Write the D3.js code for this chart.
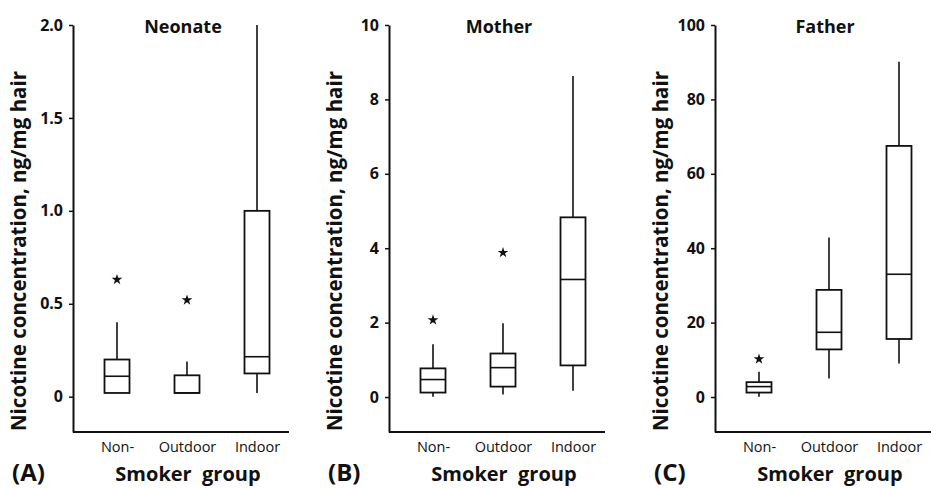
<!DOCTYPE html>
<html>
<head>
<meta charset="utf-8">
<script src="https://cdn.jsdelivr.net/npm/d3@7"></script>
<style>
  body { margin: 0; background: #fff; }
  svg text { font-family: "Open Sans", "Noto Sans", sans-serif; fill: #111; }
</style>
</head>
<body>
<svg width="931" height="488"></svg>
<script>
// smoker groups on the x axis
var groups = ["Non-", "Outdoor", "Indoor"];
var panelTitles = ["Neonate", "Mother", "Father"];
var panelLetters = ["(A)", "(B)", "(C)"];

// [min, q1, median, q3, max] per group
var neonateBoxes = [[0.02, 0.02, 0.11, 0.20, 0.40], [0.02, 0.02, 0.02, 0.115, 0.19], [0.02, 0.125, 0.215, 1.0, 2.0]];
var neonateOutliers = [0.63, 0.52, null];
var motherBoxes = [[0.01, 0.12, 0.47, 0.77, 1.42], [0.07, 0.28, 0.79, 1.17, 1.98], [0.17, 0.85, 3.16, 4.83, 8.63]];
var motherOutliers = [2.07, 3.88, null];
var fatherBoxes = [[0.1, 1.2, 2.8, 4.0, 6.8], [5.0, 12.8, 17.4, 28.8, 42.9], [9.0, 15.6, 33.0, 67.5, 90.1]];
var fatherOutliers = [10.2, null, null];

// y axis ticks
var neonateTicks = [0, 0.5, 1, 1.5, 2];
var neonateTickLabels = ["0", "0.5", "1.0", "1.5", "2.0"];
var motherTicks = [0, 2, 4, 6, 8, 10];
var motherTickLabels = ["0", "2", "4", "6", "8", "10"];
var fatherTicks = [0, 20, 40, 60, 80, 100];
var fatherTickLabels = ["0", "20", "40", "60", "80", "100"];

var panels = [
  {boxes: neonateBoxes, outliers: neonateOutliers, ticks: neonateTicks, labels: neonateTickLabels, domain: [-0.19, 2.0], left: 73},
  {boxes: motherBoxes, outliers: motherOutliers, ticks: motherTicks, labels: motherTickLabels, domain: [-0.94, 10], left: 389},
  {boxes: fatherBoxes, outliers: fatherOutliers, ticks: fatherTicks, labels: fatherTickLabels, domain: [-9.4, 100], left: 715}
];

var svg = d3.select("svg");
var plotTop = 25, plotBottom = 432, boxW = 25;

panels.forEach(function(p, i) {
  var g = svg.append("g");
  var y = d3.scaleLinear().domain(p.domain).range([plotBottom, plotTop]);
  var x = d3.scalePoint().domain(groups).range([p.left + 44, p.left + 184]);

  // y axis
  var yAxis = d3.axisLeft(y)
    .tickValues(p.ticks)
    .tickFormat(function(d, k) { return p.labels[k]; })
    .tickSize(4)
    .tickSizeOuter(0)
    .tickPadding(6);
  var ya = g.append("g")
    .attr("transform", "translate(" + p.left + ",0)")
    .call(yAxis);
  ya.select(".domain").attr("stroke", "#111").attr("stroke-width", 2);
  ya.selectAll(".tick line").attr("stroke", "#111").attr("stroke-width", 1.5);
  ya.selectAll(".tick text")
    .style("font-size", "16px")
    .style("font-weight", "bold")
    .attr("fill", "#111");

  // x axis
  var xAxis = d3.axisBottom(x).tickSize(0).tickPadding(10);
  var xa = g.append("g")
    .attr("transform", "translate(0," + plotBottom + ")")
    .call(xAxis);
  xa.select(".domain").remove();
  xa.selectAll(".tick text")
    .style("font-size", "14.5px")
    .style("font-weight", "500")
    .attr("fill", "#111");
  g.append("line")
    .attr("x1", p.left).attr("x2", Math.min(p.left + 216, 931))
    .attr("y1", plotBottom).attr("y2", plotBottom)
    .attr("stroke", "#111").attr("stroke-width", 2);

  // boxes
  var b = g.selectAll(".box").data(p.boxes).enter().append("g").attr("class", "box");
  b.append("line")
    .attr("x1", function(d, k) { return x(groups[k]); })
    .attr("x2", function(d, k) { return x(groups[k]); })
    .attr("y1", function(d) { return y(d[3]); })
    .attr("y2", function(d) { return y(d[4]); })
    .attr("stroke", "#111").attr("stroke-width", 1.6);
  b.append("line")
    .attr("x1", function(d, k) { return x(groups[k]); })
    .attr("x2", function(d, k) { return x(groups[k]); })
    .attr("y1", function(d) { return y(d[1]); })
    .attr("y2", function(d) { return y(d[0]); })
    .attr("stroke", "#111").attr("stroke-width", 1.6);
  b.append("rect")
    .attr("x", function(d, k) { return x(groups[k]) - boxW / 2; })
    .attr("width", boxW)
    .attr("y", function(d) { return y(d[3]); })
    .attr("height", function(d) { return y(d[1]) - y(d[3]); })
    .attr("fill", "#fff").attr("stroke", "#111").attr("stroke-width", 1.8);
  b.append("line")
    .attr("x1", function(d, k) { return x(groups[k]) - boxW / 2; })
    .attr("x2", function(d, k) { return x(groups[k]) + boxW / 2; })
    .attr("y1", function(d) { return y(d[2]); })
    .attr("y2", function(d) { return y(d[2]); })
    .attr("stroke", "#111").attr("stroke-width", 1.6);

  // outliers
  g.selectAll(".star")
    .data(p.outliers.map(function(v, k) { return {v: v, k: k}; }).filter(function(d) { return d.v != null; }))
    .enter().append("path")
    .attr("d", d3.symbol().type(d3.symbolStar).size(36))
    .attr("transform", function(d) { return "translate(" + x(groups[d.k]) + "," + y(d.v) + ")"; })
    .attr("fill", "#111");

  // title
  g.append("text")
    .attr("x", x(groups[1]) - 4).attr("y", 33)
    .attr("text-anchor", "middle")
    .style("font-size", "18px").style("font-weight", "bold")
    .text(panelTitles[i]);

  // y label
  g.append("text")
    .attr("transform", "translate(" + (p.left - 47) + "," + 251 + ") rotate(-90)")
    .attr("text-anchor", "middle")
    .style("font-size", "20.5px").style("font-weight", "bold")
    .text("Nicotine concentration, ng/mg hair");

  // panel letter and x label
  g.append("text")
    .attr("x", p.left - 61).attr("y", 481)
    .style("font-size", "24px").style("font-weight", "bold")
    .text(panelLetters[i]);
  g.append("text")
    .attr("x", x(groups[1]) + 1).attr("y", 481)
    .attr("text-anchor", "middle")
    .attr("xml:space", "preserve")
    .style("white-space", "pre")
    .style("font-size", "20px").style("font-weight", "bold")
    .text("Smoker  group");
});
</script>
</body>
</html>
